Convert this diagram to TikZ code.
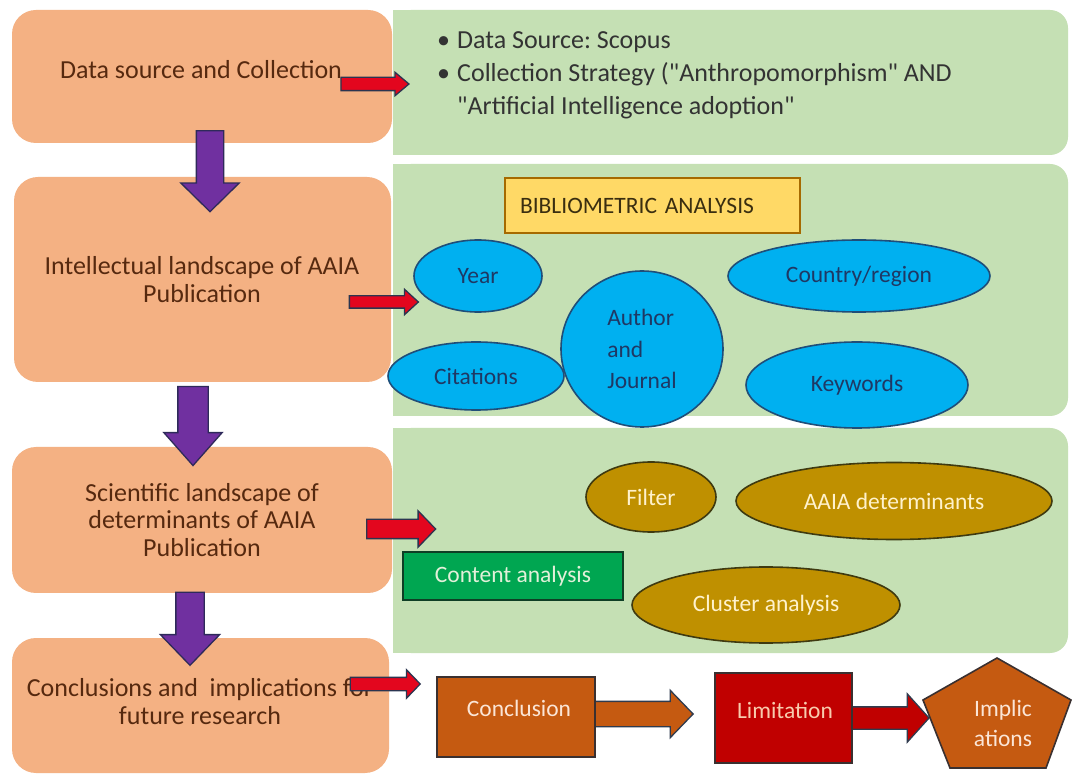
\documentclass[tikz,border=0pt]{standalone}
\usepackage{fontspec}
\setmainfont{Carlito}
\usetikzlibrary{shapes.geometric,shapes.arrows}
\frenchspacing

\definecolor{boxorange}{HTML}{F4B183}
\definecolor{boxtext}{HTML}{56290F}
\definecolor{panelgreen}{HTML}{C5E0B4}
\definecolor{arrowpurple}{HTML}{7030A0}
\definecolor{purpleedge}{HTML}{2E2A5A}
\definecolor{arrowred}{HTML}{E3061E}
\definecolor{rededge}{HTML}{2B3550}
\definecolor{bibfill}{HTML}{FFD966}
\definecolor{bibedge}{HTML}{A66A00}
\definecolor{bibtext}{HTML}{3A2E10}
\definecolor{bubblefill}{HTML}{00B0F0}
\definecolor{bubbleedge}{HTML}{1F4E79}
\definecolor{bubbletext}{HTML}{1F3864}
\definecolor{goldfill}{HTML}{BF9000}
\definecolor{goldedge}{HTML}{3F3A10}
\definecolor{goldtext}{HTML}{FFF2CC}
\definecolor{contentfill}{HTML}{00A651}
\definecolor{contentedge}{HTML}{0F3F25}
\definecolor{contenttext}{HTML}{E2F0D9}
\definecolor{conclfill}{HTML}{C55A11}
\definecolor{darkedge}{HTML}{3A3030}
\definecolor{lighttext}{HTML}{FBE5D6}
\definecolor{limitfill}{HTML}{C00000}
\definecolor{limittext}{HTML}{F8CBAD}
\definecolor{slateedge}{HTML}{2F3B4E}

\tikzset{
  obox/.style={rectangle, rounded corners=24pt, fill=boxorange, inner sep=0pt},
  otext/.style={align=center, text=boxtext, inner sep=0pt, font=\fontsize{26}{27.5}\selectfont},
  panel/.style={rectangle, rounded corners=18pt, fill=panelgreen, inner sep=0pt},
  inner/.style={font=\fontsize{23.5}{31.5}\selectfont, inner sep=0pt},
  bubble/.style={inner, ellipse, draw=bubbleedge, line width=1.6pt, fill=bubblefill, text=bubbletext},
  goldbubble/.style={inner, ellipse, draw=goldedge, line width=1.6pt, fill=goldfill, text=goldtext},
  barrow/.style={single arrow, inner xsep=0pt, line width=1.3pt},
  purplearrow/.style={barrow, fill=arrowpurple, draw=purpleedge, rotate=-90},
  redarrow/.style={barrow, fill=arrowred, draw=rededge},
}

\begin{document}
\begin{tikzpicture}[x=1pt, y=-1pt]
\useasboundingbox (0,0) rectangle (1072,775);
\fill[white] (0,0) rectangle (1072,775);

% green panels on the right, rounded on the right side only
\node[panel, minimum width=675pt, minimum height=145pt] (p1) at (730.5,82.5) {};
\node[panel, minimum width=675pt, minimum height=252pt] (p2) at (730.5,290) {};
\node[panel, minimum width=675pt, minimum height=225pt] (p3) at (730.5,540.5) {};
\fill[panelgreen] (393,10) rectangle (430,155);
\fill[panelgreen] (393,164) rectangle (430,416);
\fill[panelgreen] (393,428) rectangle (430,653);

% orange stage boxes
\node[obox, minimum width=380pt, minimum height=133pt] (b1) at (202,76.5) {};
\node[obox, minimum width=377pt, minimum height=205pt] (b2) at (202.5,279.5) {};
\node[obox, minimum width=380pt, minimum height=146pt] (b3) at (202,520) {};
\node[obox, minimum width=377pt, minimum height=135pt] (b4) at (200.5,705.5) {};

\node[otext] (t1) at (201,70) {Data source and Collection};
\node[otext] (t2) at (202,279.5) {Intellectual landscape of AAIA\\Publication};
\node[otext] (t3) at (202,520) {Scientific landscape of\\determinants of AAIA\\Publication};
\node[otext] (t4) at (200,701.5) {Conclusions and~ implications for\\future research};

% data source bullets
\node[anchor=west, align=left, text=black!80, inner sep=0pt,
      font=\fontsize{26}{33}\selectfont] (src) at (437,75)
  {\makebox[20pt][l]{\textbullet}Data Source: Scopus\\
   \makebox[20pt][l]{\textbullet}Collection Strategy (\textquotedbl Anthropomorphism\textquotedbl{} AND\\
   \makebox[20pt][l]{}\textquotedbl Artificial Intelligence adoption\textquotedbl};

% bibliometric analysis
\node[rectangle, fill=bibfill, draw=bibedge, line width=1.6pt, minimum width=295pt,
      minimum height=55pt, text width=265pt, inner xsep=15pt, align=left,
      text=bibtext, font=\fontsize{23.5}{26}\selectfont] (bib) at (652.5,205.5)
  {BIBLIOMETRIC ANALYSIS};
\node[bubble, minimum width=128pt, minimum height=72pt] (year) at (478,276) {Year};
\node[bubble, minimum width=176pt, minimum height=68pt] (cit) at (476,376) {Citations};
\node[bubble, minimum width=162pt, minimum height=156pt, align=left] (auth) at (642,349) {Author\\and\\Journal};
\node[bubble, minimum width=262pt, minimum height=72pt] (country) at (859,276) {Country/region};
\node[bubble, minimum width=222pt, minimum height=86pt] (kw) at (857,385) {Keywords};

% content analysis
\node[goldbubble, minimum width=130pt, minimum height=70pt] (filter) at (651,497) {Filter};
\node[goldbubble, minimum width=316pt, minimum height=77pt] (det) at (894,501) {AAIA determinants};
\node[inner, rectangle, fill=contentfill, draw=contentedge, line width=1.6pt,
      minimum width=220pt, minimum height=48pt, text=contenttext] (content) at (513,576) {Content analysis};
\node[goldbubble, minimum width=268pt, minimum height=76pt] (cluster) at (766,605) {Cluster analysis};

% conclusions row
\node[redarrow, fill=conclfill, draw=slateedge, minimum height=102pt, minimum width=46pt,
      inner ysep=12pt, single arrow head extend=11pt, single arrow tip angle=92] (a1) at (636,714) {};
\node[inner, rectangle, fill=conclfill, draw=darkedge, line width=1.6pt,
      minimum width=158pt, minimum height=80pt, text=lighttext] (concl) at (516,717) {};
\node[inner, text=lighttext] (conclt) at (519,708) {Conclusion};
\node[redarrow, fill=limitfill, draw=slateedge, minimum height=80pt, minimum width=47pt,
      inner ysep=10.5pt, single arrow head extend=13pt, single arrow tip angle=96] (a2) at (884,718) {};
\node[inner, rectangle, fill=limitfill, draw=darkedge, line width=1.6pt,
      minimum width=137pt, minimum height=90pt] (limit) at (783.5,718) {};
\node[inner, text=limittext] (limitt) at (785,710) {Limitation};
\filldraw[fill=conclfill, draw=darkedge, line width=1.6pt]
  (997,658) -- (1071,700) -- (1046,768) -- (950,768) -- (923,700) -- cycle;
\node[inner, align=center, text=lighttext, font=\fontsize{23.5}{30}\selectfont] (impl) at (1003,723) {Implic\\ations};

% purple flow arrows between stages
\node[purplearrow, minimum height=81pt, minimum width=57pt, inner ysep=13pt,
      single arrow head extend=15.5pt, single arrow tip angle=91] (d1) at (210,164.5) {};
\node[purplearrow, minimum height=79pt, minimum width=57pt, inner ysep=14.5pt,
      single arrow head extend=14pt, single arrow tip angle=83] (d2) at (193,417.5) {};
\node[purplearrow, minimum height=73pt, minimum width=58pt, inner ysep=13.5pt,
      single arrow head extend=15.5pt, single arrow tip angle=88] (d3) at (190,621.5) {};

% red arrows into the panels
\node[redarrow, minimum height=68pt, minimum width=22pt, inner ysep=6pt,
      single arrow head extend=5pt, single arrow tip angle=80] (r1) at (371,84) {};
\node[redarrow, minimum height=69pt, minimum width=24pt, inner ysep=5.5pt,
      single arrow head extend=6.5pt, single arrow tip angle=85] (r2) at (380.5,302) {};
\node[redarrow, minimum height=69pt, minimum width=35pt, inner ysep=9pt,
      single arrow head extend=8.5pt, single arrow tip angle=92] (r3) at (396.5,529) {};
\node[redarrow, minimum height=70pt, minimum width=27pt, inner ysep=6pt,
      single arrow head extend=7.5pt, single arrow tip angle=92] (r4) at (382,684) {};
\end{tikzpicture}
\end{document}
